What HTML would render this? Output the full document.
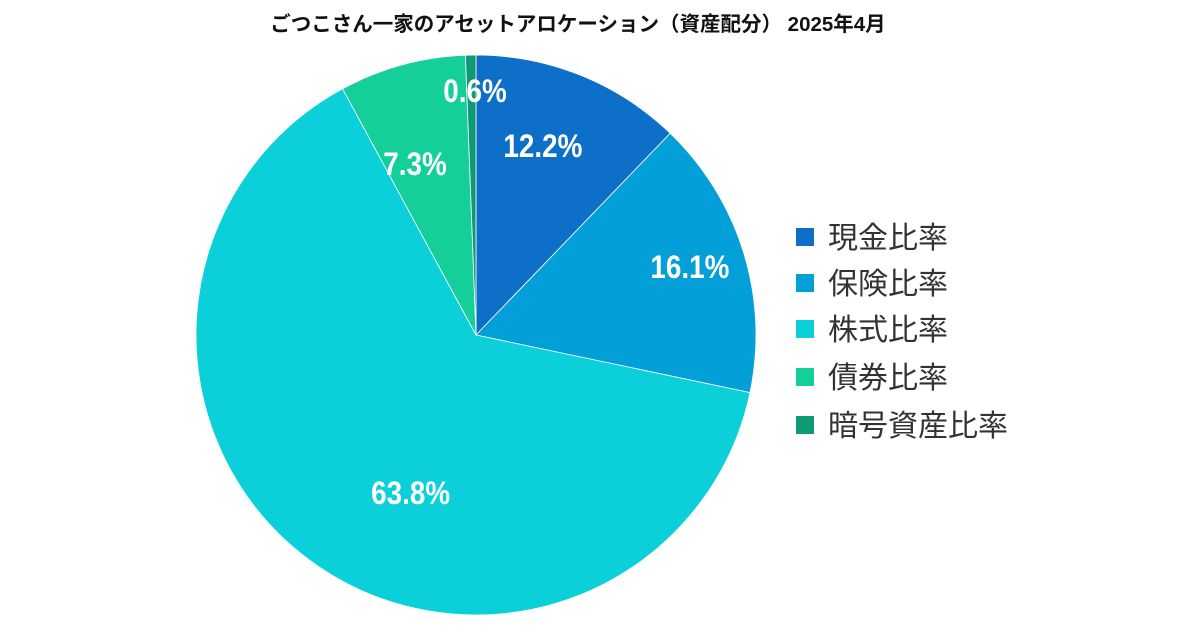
<!DOCTYPE html>
<html><head><meta charset="utf-8"><style>
body{margin:0;background:#fff;}
svg text{font-family:"Liberation Sans","Noto Sans CJK JP",sans-serif;}
.l{fill:#fff;font-weight:bold;font-size:32px;}
.g{fill:#333;font-size:30px;}
</style></head><body>
<svg width="1200" height="630" viewBox="0 0 1200 630">
<rect width="1200" height="630" fill="#fff"/>
<text x="578" y="31" text-anchor="middle" font-weight="bold" font-size="20.5" fill="#111">ごつこさん一家のアセットアロケーション（資産配分） 2025年4月</text>
<g stroke="#fff" stroke-width="0.8">
<path d="M476,335 L476,55 A280,280 0 0 1 670.2,133.3 Z" fill="#0E6FC8"/>
<path d="M476,335 L670.2,133.3 A280,280 0 0 1 750,392.6 Z" fill="#039FD8"/>
<path d="M476,335 L750,392.6 A280,280 0 1 1 342.6,88.8 Z" fill="#0BD0D9"/>
<path d="M476,335 L342.6,88.8 A280,280 0 0 1 465.4,55.2 Z" fill="#14CF9A"/>
<path d="M476,335 L465.4,55.2 A280,280 0 0 1 476,55 Z" fill="#0E9A74"/>
</g>
<g transform="scale(0.87,1)">
<text class="l" x="546" y="102" text-anchor="middle">0.6%</text>
<text class="l" x="624" y="157" text-anchor="middle">12.2%</text>
<text class="l" x="793" y="278" text-anchor="middle">16.1%</text>
<text class="l" x="477" y="175" text-anchor="middle">7.3%</text>
<text class="l" x="472" y="504" text-anchor="middle">63.8%</text>
</g>
<rect x="796" y="228" width="18" height="18" fill="#0E6FC8"/>
<text class="g" x="828" y="248">現金比率</text>
<rect x="796" y="274" width="18" height="18" fill="#039FD8"/>
<text class="g" x="828" y="294">保険比率</text>
<rect x="796" y="320" width="18" height="18" fill="#0BD0D9"/>
<text class="g" x="828" y="340">株式比率</text>
<rect x="796" y="368" width="18" height="18" fill="#14CF9A"/>
<text class="g" x="828" y="388">債券比率</text>
<rect x="796" y="416" width="18" height="18" fill="#0E9A74"/>
<text class="g" x="828" y="436">暗号資産比率</text>
</svg>
</body></html>
